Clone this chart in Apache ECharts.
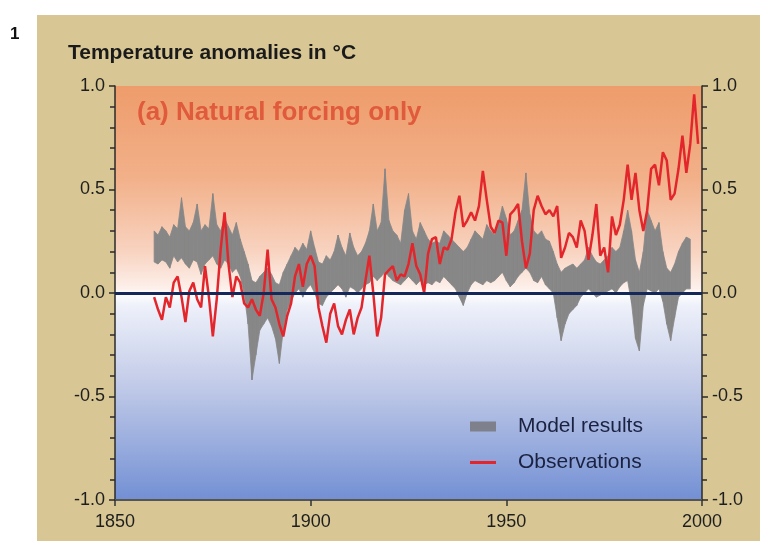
<!DOCTYPE html>
<html>
<head>
<meta charset="utf-8">
<script src="https://cdn.jsdelivr.net/npm/echarts@6.0.0/dist/echarts.min.js"></script>
<style>
  html, body { margin: 0; padding: 0; background: #fff; }
  #chart { width: 760px; height: 546px; }
</style>
</head>
<body>
<div id="chart"></div>
<script>
// observed global temperature anomaly, one value per year from 1860
var obsStart = 1860
var observations = [
  -0.02, -0.08, -0.13, -0.02, -0.07, 0.05, 0.08, -0.02, -0.14, 0.01,
  0.05, -0.03, -0.07, 0.13, -0.02, -0.21, -0.03, 0.21, 0.39, 0.14,
  -0.02, 0.08, 0.05, -0.05, -0.07, -0.03, -0.08, -0.11, 0.0, 0.21,
  -0.03, -0.07, -0.15, -0.21, -0.11, -0.05, 0.08, 0.14, 0.03, 0.14,
  0.18, 0.13, -0.07, -0.16, -0.24, -0.10, -0.05, -0.16, -0.20, -0.13,
  -0.08, -0.20, -0.12, -0.07, 0.06, 0.18, 0.0, -0.21, -0.12, 0.09,
  0.11, 0.13, 0.06, 0.09, 0.08, 0.14, 0.24, 0.13, 0.09, 0.0,
  0.19, 0.26, 0.27, 0.14, 0.22, 0.21, 0.26, 0.39, 0.47, 0.32,
  0.35, 0.39, 0.35, 0.42, 0.59, 0.45, 0.32, 0.29, 0.35, 0.34,
  0.18, 0.38, 0.40, 0.43, 0.25, 0.12, 0.19, 0.40, 0.47, 0.42,
  0.38, 0.40, 0.37, 0.42, 0.17, 0.22, 0.29, 0.27, 0.22, 0.35,
  0.30, 0.16, 0.28, 0.43, 0.18, 0.22, 0.10, 0.37, 0.28, 0.33,
  0.45, 0.62, 0.45, 0.58, 0.40, 0.30, 0.40, 0.60, 0.62, 0.52,
  0.68, 0.64, 0.45, 0.48, 0.60, 0.76, 0.58, 0.72, 0.96, 0.72
]

// model ensemble range (natural forcing), from 1860
var modelStart = 1860
var modelUpper = [
  0.30, 0.28, 0.32, 0.30, 0.27, 0.33, 0.31, 0.46, 0.32, 0.30,
  0.34, 0.43, 0.30, 0.33, 0.31, 0.48, 0.33, 0.30, 0.36, 0.32,
  0.28, 0.34, 0.26, 0.20, 0.14, 0.06, 0.05, 0.08, 0.10, 0.12,
  0.09, 0.05, 0.04, 0.10, 0.14, 0.18, 0.22, 0.20, 0.24, 0.21,
  0.30, 0.22, 0.15, 0.14, 0.18, 0.16, 0.20, 0.28, 0.22, 0.18,
  0.29, 0.22, 0.18, 0.20, 0.24, 0.30, 0.43, 0.30, 0.34, 0.60,
  0.35, 0.30, 0.28, 0.24, 0.40, 0.48, 0.30, 0.26, 0.34, 0.30,
  0.26, 0.24, 0.25, 0.24, 0.30, 0.28, 0.26, 0.24, 0.22, 0.20,
  0.22, 0.26, 0.30, 0.28, 0.26, 0.33, 0.30, 0.28, 0.34, 0.42,
  0.36, 0.28, 0.30, 0.35, 0.40, 0.58, 0.38, 0.30, 0.28, 0.30,
  0.26, 0.25, 0.20, 0.14, 0.10, 0.12, 0.13, 0.14, 0.12, 0.14,
  0.16, 0.22, 0.18, 0.15, 0.14, 0.16, 0.18, 0.22, 0.20, 0.22,
  0.30, 0.40, 0.30, 0.16, 0.10, 0.20, 0.40, 0.35, 0.30, 0.34,
  0.20, 0.12, 0.10, 0.14, 0.20, 0.24, 0.27, 0.26
]
var modelLower = [
  0.15, 0.14, 0.16, 0.15, 0.12, 0.18, 0.15, 0.17, 0.14, 0.12,
  0.16, 0.15, 0.09, 0.14, 0.16, 0.18, 0.14, 0.12, 0.16, 0.14,
  0.10, 0.12, 0.08, 0.00, -0.15, -0.42, -0.30, -0.18, -0.15, -0.12,
  -0.16, -0.22, -0.34, -0.18, -0.08, -0.04, 0.00, 0.02, -0.02, 0.02,
  0.04, 0.00, -0.05, -0.06, -0.02, 0.00, 0.02, 0.04, 0.02, -0.02,
  0.03, 0.02, 0.00, 0.02, 0.04, 0.05, 0.08, 0.06, 0.08, 0.10,
  0.08, 0.06, 0.05, 0.04, 0.06, 0.08, 0.06, 0.04, 0.06, 0.04,
  0.05, 0.04, 0.06, 0.05, 0.08, 0.06, 0.04, 0.02, -0.02, -0.06,
  0.00, 0.04, 0.06, 0.05, 0.04, 0.06, 0.05, 0.06, 0.08, 0.10,
  0.06, 0.03, 0.05, 0.08, 0.10, 0.12, 0.10, 0.06, 0.05, 0.08,
  0.04, 0.02, 0.00, -0.12, -0.23, -0.15, -0.10, -0.08, -0.06, -0.02,
  0.00, 0.02, 0.00, -0.02, -0.01, 0.00, 0.01, 0.02, 0.00, 0.03,
  0.05, 0.06, -0.05, -0.22, -0.28, -0.06, 0.02, 0.01, 0.00, 0.02,
  -0.04, -0.15, -0.23, -0.12, -0.02, 0.00, 0.02, 0.02
]

var yearTicks = [1850, 2000, 50]   // min, max, step
var tempTicks = [-1, 1, 0.5]

var fontSans = "'Liberation Sans', Arial, sans-serif"
var bandColor = '#878787'
var obsColor = '#e3262b'

function initChart() {
  let chart = echarts.init(document.getElementById('chart'))

  var obsData = observations.map(function (v, i) { return [obsStart + i, v] })

  // one quad per year step: [year, low, high, nextYear, nextLow, nextHigh]
  var bandData = []
  for (var i = 0; i < modelUpper.length - 1; i++) {
    bandData.push([
      modelStart + i, modelLower[i], modelUpper[i],
      modelStart + i + 1, modelLower[i + 1], modelUpper[i + 1],
    ])
  }

  var tempAxis = function (pos) {
    return {
      type: 'value',
      position: pos,
      min: tempTicks[0],
      max: tempTicks[1],
      interval: tempTicks[2],
      axisLine: { show: true, lineStyle: { color: '#2a2a2a', width: 1.5 } },
      axisTick: { show: true, inside: false, length: 6, lineStyle: { color: '#2a2a2a', width: 1.5 } },
      minorTick: { show: true, splitNumber: 5, length: 5, lineStyle: { color: '#2a2a2a', width: 1.5 } },
      splitLine: { show: false },
      axisLabel: {
        margin: 10,
        color: '#1e1e1e',
        fontSize: 18,
        fontFamily: fontSans,
        formatter: function (v) { return v.toFixed(1) },
      },
    }
  }

  var legendBase = {
    orient: 'vertical',
    left: 470,
    padding: 0,
    itemWidth: 26,
    textStyle: {
      color: '#1b2140',
      fontSize: 21,
      fontFamily: fontSans,
      padding: [0, 0, 0, 17],
    },
  }

  var option = {
    backgroundColor: '#ffffff',
    animation: false,
    graphic: [
      {
        type: 'rect',
        z: -10,
        shape: { x: 37, y: 15, width: 723, height: 526 },
        style: { fill: '#d8c795' },
      },
      {
        type: 'text',
        left: 10,
        top: 26,
        style: { text: '1', font: 'bold 17px ' + fontSans, fill: '#111' },
      },
      {
        type: 'text',
        left: 68,
        top: 43,
        style: { text: 'Temperature anomalies in °C', font: 'bold 21px ' + fontSans, fill: '#1a1a1a' },
      },
      {
        type: 'text',
        left: 137,
        top: 100,
        z: 10,
        style: { text: '(a) Natural forcing only', font: 'bold 26px ' + fontSans, fill: '#e05a3c' },
      },
    ],
    grid: {
      left: 115,
      right: 58,
      top: 86,
      bottom: 46,
      show: true,
      borderWidth: 0,
      backgroundColor: new echarts.graphic.LinearGradient(0, 0, 0, 1, [
        { offset: 0, color: '#ee9c6b' },
        { offset: 0.22, color: '#f2b089' },
        { offset: 0.4, color: '#f8d3c0' },
        { offset: 0.49, color: '#fdf0eb' },
        { offset: 0.5, color: '#ffffff' },
        { offset: 0.53, color: '#eef1fa' },
        { offset: 0.72, color: '#c2cbe8' },
        { offset: 1, color: '#7390d4' },
      ]),
    },
    legend: [
      Object.assign({}, legendBase, {
        top: 416,
        itemHeight: 10,
        data: [{ name: 'Model results', icon: 'rect', itemStyle: { color: '#7e808c' } }],
      }),
      Object.assign({}, legendBase, {
        top: 452,
        itemHeight: 3,
        data: [{ name: 'Observations', icon: 'rect', itemStyle: { color: obsColor } }],
      }),
    ],
    xAxis: {
      type: 'value',
      min: yearTicks[0],
      max: yearTicks[1],
      interval: yearTicks[2],
      axisLine: { show: true, onZero: false, lineStyle: { color: '#555', width: 2 } },
      axisTick: { show: true, length: 6, lineStyle: { color: '#333', width: 1.5 } },
      splitLine: { show: false },
      axisLabel: {
        margin: 13,
        color: '#1e1e1e',
        fontSize: 18,
        fontFamily: fontSans,
        formatter: function (v) { return String(v) },
      },
    },
    yAxis: [tempAxis('left'), tempAxis('right')],
    series: [
      {
        name: 'Model results',
        type: 'custom',
        data: bandData,
        itemStyle: { color: bandColor },
        encode: { x: [0, 3], y: [1, 2, 4, 5] },
        silent: true,
        renderItem: function (params, api) {
          var a = api.coord([api.value(0), api.value(2)])
          var b = api.coord([api.value(3), api.value(5)])
          var c = api.coord([api.value(3), api.value(4)])
          var d = api.coord([api.value(0), api.value(1)])
          return {
            type: 'polygon',
            shape: { points: [a, b, c, d] },
            style: { fill: bandColor, stroke: bandColor, lineWidth: 0.8 },
          }
        },
      },
      {
        name: 'Observations',
        type: 'line',
        data: obsData,
        symbol: 'none',
        itemStyle: { color: obsColor },
        lineStyle: { color: obsColor, width: 2.5 },
        markLine: {
          silent: true,
          symbol: 'none',
          label: { show: false },
          lineStyle: { color: '#14285a', width: 3, type: 'solid' },
          data: [{ yAxis: 0 }],
        },
      },
    ],
  }
  chart.setOption(option)

  window.addEventListener('resize', function () {
    chart.resize()
  })
}

initChart()
</script>
</body>
</html>
